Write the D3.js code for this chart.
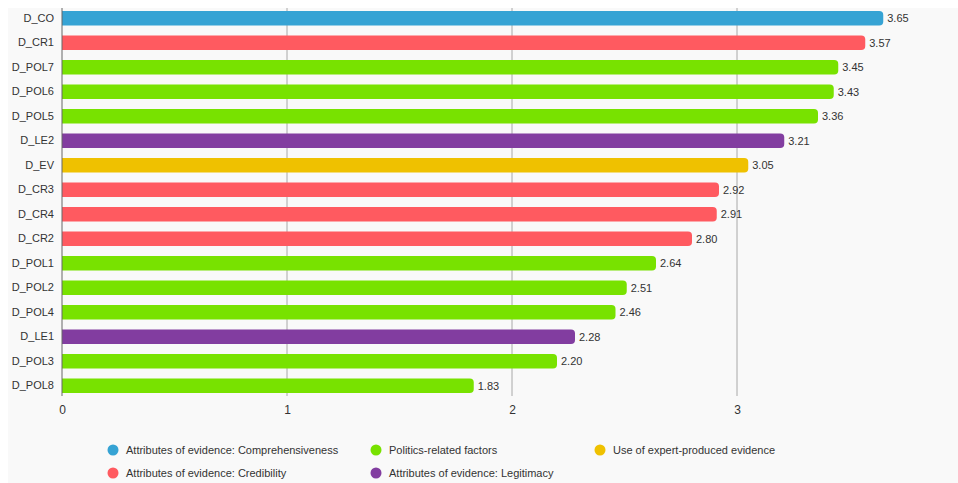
<!DOCTYPE html>
<html><head><meta charset="utf-8">
<script src="https://cdn.jsdelivr.net/npm/d3@7"></script>
<style>body{margin:0;background:#fff}svg{display:block}</style>
</head><body><svg id="c" width="958" height="483"></svg>
<script>
const categories = ["D_CO","D_CR1","D_POL7","D_POL6","D_POL5","D_LE2","D_EV","D_CR3","D_CR4","D_CR2","D_POL1","D_POL2","D_POL4","D_LE1","D_POL3","D_POL8"];
const values = [3.65,3.57,3.45,3.43,3.36,3.21,3.05,2.92,2.91,2.80,2.64,2.51,2.46,2.28,2.20,1.83];
const groups = ["Comprehensiveness","Credibility","Politics","Politics","Politics","Legitimacy","Expert","Credibility","Credibility","Credibility","Politics","Politics","Politics","Legitimacy","Politics","Politics"];
const groupKeys = ["Comprehensiveness","Credibility","Politics","Legitimacy","Expert"];
const groupLabels = ["Attributes of evidence: Comprehensiveness","Attributes of evidence: Credibility","Politics-related factors","Attributes of evidence: Legitimacy","Use of expert-produced evidence"];
const groupColors = ["#36a3d4","#ff5a60","#78e200","#823da0","#efc100"];
const xTicks = [0,1,2,3];

const svg = d3.select("#c");
const font = "Liberation Sans, Arial, sans-serif";
svg.append("rect").attr("x",8).attr("y",8).attr("width",950).attr("height",475).attr("fill","#f9f9f9");

const x = d3.scaleLinear().domain([0,1]).range([62,287]);
const y = d3.scaleBand().domain(categories).range([6,398]).paddingInner(0.4).paddingOuter(0.2);
const color = d3.scaleOrdinal().domain(groupKeys).range(groupColors);

// grid
svg.append("g").selectAll("line").data(xTicks.filter(d=>d>0)).join("line")
  .attr("x1",d=>x(d)).attr("x2",d=>x(d)).attr("y1",8).attr("y2",396)
  .attr("stroke","#a8a8a8").attr("stroke-width",1);

// bars with rounded right end
const r = 4;
svg.append("g").selectAll("path").data(categories).join("path")
  .attr("d",(c,i)=>{
    const x0=x(0), x1=x(values[i]), y0=y(c), h=y.bandwidth();
    return `M${x0},${y0}H${x1-r}A${r},${r} 0 0 1 ${x1},${y0+r}V${y0+h-r}A${r},${r} 0 0 1 ${x1-r},${y0+h}H${x0}Z`;
  })
  .attr("fill",(c,i)=>color(groups[i]));

// value labels
svg.append("g").selectAll("text").data(categories).join("text")
  .attr("x",(c,i)=>x(values[i])+4).attr("y",c=>y(c)+y.bandwidth()/2)
  .attr("dy","0.35em").attr("font-family",font).attr("font-size",11).attr("fill","#333")
  .text((c,i)=>values[i].toFixed(2));

// y axis
const ya = svg.append("g").attr("transform",`translate(${x(0)},0)`)
  .call(d3.axisLeft(y).tickSize(0).tickPadding(8));
ya.select(".domain").attr("stroke","#666").attr("d",`M0,8V396`);
ya.selectAll("text").attr("font-family",font).attr("font-size",11).attr("fill","#333");

// x axis
const xa = svg.append("g").attr("transform","translate(0,396)")
  .call(d3.axisBottom(x).tickValues(xTicks).tickFormat(d3.format("d")).tickSize(0).tickPadding(9));
xa.select(".domain").remove();
xa.selectAll("text").attr("font-family",font).attr("font-size",12).attr("fill","#333");

// legend
const legendX = [113,376,600];
const legendOrder = [["Comprehensiveness",0,0],["Politics",1,0],["Expert",2,0],["Credibility",0,1],["Legitimacy",1,1]];
const lg = svg.append("g").selectAll("g").data(legendOrder).join("g")
  .attr("transform",d=>`translate(${legendX[d[1]]},${450+d[2]*23})`);
lg.append("circle").attr("r",5.5).attr("fill",d=>color(d[0]));
lg.append("text").attr("x",13).attr("dy","0.35em").attr("font-family",font).attr("font-size",11).attr("fill","#333")
  .text(d=>groupLabels[groupKeys.indexOf(d[0])]);
</script></body></html>
